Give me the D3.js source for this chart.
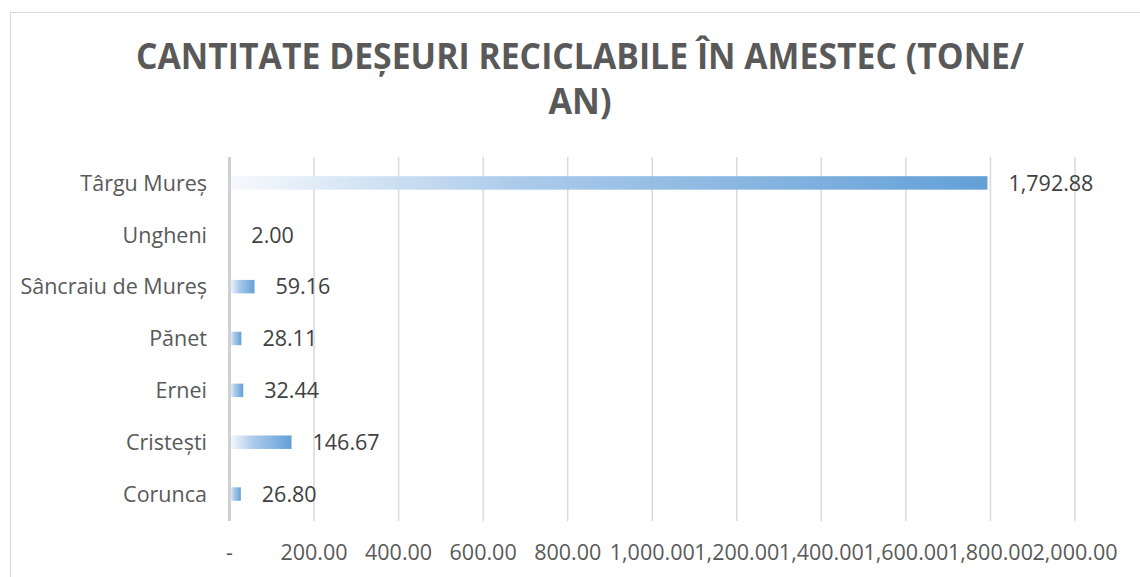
<!DOCTYPE html>
<html>
<head>
<meta charset="utf-8">
<script src="https://cdn.jsdelivr.net/npm/d3@7"></script>
<style>
  html, body { margin: 0; padding: 0; background: #ffffff; }
  svg { display: block; font-family: "Open Sans", "Noto Sans", sans-serif; }
</style>
</head>
<body>
<svg id="chart" width="1140" height="577"></svg>
<script>
// Data (top to bottom as displayed)
const categories = ["Târgu Mureș", "Ungheni", "Sâncraiu de Mureș", "Pănet", "Ernei", "Cristești", "Corunca"];
const values = [1792.88, 2.00, 59.16, 28.11, 32.44, 146.67, 26.80];
const tickValues = [0, 200, 400, 600, 800, 1000, 1200, 1400, 1600, 1800, 2000];
const titleLines = ["CANTITATE DEȘEURI RECICLABILE ÎN AMESTEC (TONE/", "AN)"];

const svg = d3.select("#chart");
const W = 1140, H = 577;

// chart border
svg.append("rect")
  .attr("x", 10.5).attr("y", 12.5)
  .attr("width", W + 10).attr("height", H + 10)
  .attr("fill", "#ffffff").attr("stroke", "#d9d9d9").attr("stroke-width", 1);

// title
const title = svg.append("g").attr("fill", "#595959")
  .attr("font-weight", 700).attr("text-anchor", "middle");
title.append("text").attr("x", 580).attr("y", 69)
  .attr("font-size", 35)
  .attr("textLength", 888).attr("lengthAdjust", "spacingAndGlyphs")
  .text(titleLines[0]);
title.append("text").attr("x", 580).attr("y", 114)
  .attr("font-size", 35)
  .attr("textLength", 63).attr("lengthAdjust", "spacingAndGlyphs")
  .text(titleLines[1]);

// scales
const x = d3.scaleLinear().domain([0, 2000]).range([229.5, 1075]);
const y = d3.scaleBand().domain(categories).range([157, 520]).paddingInner(0.74).paddingOuter(0.37);

// gradient
const defs = svg.append("defs");
const grad = defs.append("linearGradient").attr("id", "barGrad")
  .attr("x1", "0").attr("y1", "0").attr("x2", "1").attr("y2", "0");
grad.append("stop").attr("offset", "0").attr("stop-color", "#f6f9fd");
grad.append("stop").attr("offset", "0.38").attr("stop-color", "#a7c8e9");
grad.append("stop").attr("offset", "1").attr("stop-color", "#5b9bd5");

// gridlines
svg.append("g").selectAll("line")
  .data(tickValues.filter(d => d !== 0))
  .join("line")
  .attr("x1", d => x(d)).attr("x2", d => x(d))
  .attr("y1", 157).attr("y2", 521)
  .attr("stroke", "#d9d9d9").attr("stroke-width", 1.5);

// bars
svg.append("g").selectAll("rect")
  .data(values)
  .join("rect")
  .attr("x", x(0))
  .attr("y", (d, i) => y(categories[i]))
  .attr("width", d => x(d) - x(0))
  .attr("height", y.bandwidth())
  .attr("fill", "url(#barGrad)")
  .attr("opacity", 0.95);

// zero axis line
svg.append("line")
  .attr("x1", x(0)).attr("x2", x(0))
  .attr("y1", 157).attr("y2", 521)
  .attr("stroke", "#d0d0d0").attr("stroke-width", 3);

// value labels
const fmt = d3.format(",.2f");
svg.append("g").selectAll("text")
  .data(values)
  .join("text")
  .attr("x", d => x(d) + 21)
  .attr("y", (d, i) => y(categories[i]) + y.bandwidth() / 2)
  .attr("dy", "0.36em")
  .attr("font-size", 21.5)
  .attr("fill", "#404040")
  .text(d => fmt(d));

// category axis labels
svg.append("g").selectAll("text")
  .data(categories)
  .join("text")
  .attr("x", 207)
  .attr("y", d => y(d) + y.bandwidth() / 2)
  .attr("dy", "0.36em")
  .attr("text-anchor", "end")
  .attr("font-size", 21.5)
  .attr("fill", "#595959")
  .text(d => d);

// value axis tick labels
const tickFmt = d => d === 0 ? "-" : fmt(d);
svg.append("g").selectAll("text")
  .data(tickValues)
  .join("text")
  .attr("x", d => x(d))
  .attr("y", 560)
  .attr("text-anchor", "middle")
  .attr("font-size", 21.5)
  .attr("fill", "#595959")
  .text(tickFmt);
</script>
</body>
</html>
